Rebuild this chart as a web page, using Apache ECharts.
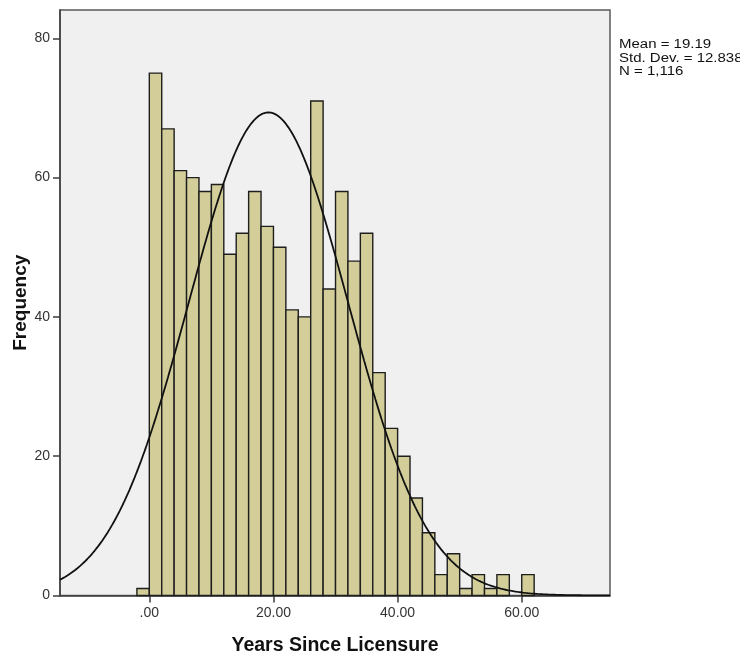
<!DOCTYPE html>
<html>
<head>
<meta charset="utf-8">
<script src="https://cdn.jsdelivr.net/npm/echarts@6/dist/echarts.min.js"></script>
<style>
  html, body { margin: 0; padding: 0; background: #ffffff; }
  #chart { width: 740px; height: 658px; }
</style>
</head>
<body>
<div id="chart"></div>
<script>
// Histogram bins: lower edge of each 2-year bin and its frequency
const binLower = [-2, 0, 2, 4, 6, 8, 10, 12, 14, 16, 18, 20, 22, 24, 26, 28, 30,
                  32, 34, 36, 38, 40, 42, 44, 46, 48, 50, 52, 54, 56, 58, 60];
const binCounts = [1, 75, 67, 61, 60, 58, 59, 49, 52, 58, 53, 50, 41, 40, 71, 44, 58,
                   48, 52, 32, 24, 20, 14, 9, 3, 6, 1, 3, 1, 3, 0, 3];
const binWidth = 2;

// Summary statistics shown beside the plot (also define the normal curve)
const statMean = 19.19;
const statSD = 12.838;
const statN = 1116;
const statLines = ['Mean = 19.19', 'Std. Dev. = 12.838', 'N = 1,116'];

// Axis ticks and labels
const xTicks = [0, 20, 40, 60];
const xTickLabels = ['.00', '20.00', '40.00', '60.00'];
const yTicks = [0, 20, 40, 60, 80];
const yTickLabels = ['0', '20', '40', '60', '80'];

const xMin = -14.39, xMax = 74.22;
const yMin = 0, yMax = 84.06;

// Bars as [start, end, count]; empty bins are not drawn
const barData = binLower
  .map((lo, i) => [lo, lo + binWidth, binCounts[i]])
  .filter(d => d[2] > 0);

// Normal density scaled to the histogram (N * bin width)
const curveData = [];
const scale = statN * binWidth / (statSD * Math.sqrt(2 * Math.PI));
for (let x = xMin; x <= xMax + 1e-9; x += 0.2) {
  const z = (x - statMean) / statSD;
  curveData.push([x, scale * Math.exp(-0.5 * z * z)]);
}

const chart = echarts.init(document.getElementById('chart'), null, { renderer: 'canvas' });

chart.setOption({
  animation: false,
  backgroundColor: '#ffffff',
  grid: {
    left: 60, right: 130, top: 10, bottom: 62.5,
    show: true,
    backgroundColor: '#f0f0f0',
    borderColor: '#5a5a5a',
    borderWidth: 1.5,
    containLabel: false,
    outerBoundsMode: 'none'
  },
  xAxis: {
    type: 'value',
    min: xMin, max: xMax,
    name: 'Years Since Licensure',
    nameLocation: 'middle',
    nameGap: 40,
    nameMoveOverlap: false,
    nameTextStyle: { fontFamily: 'Liberation Sans, Arial, sans-serif', fontWeight: 'bold', fontSize: 19.5, color: '#111' },
    axisLine: { show: true, onZero: false, lineStyle: { color: '#3c3c3c', width: 1.5 } },
    axisTick: { show: true, length: 7, lineStyle: { color: '#3c3c3c', width: 1.5 }, customValues: xTicks },
    axisLabel: {
      customValues: xTicks,
      margin: 11,
      fontFamily: 'Liberation Sans, Arial, sans-serif', fontSize: 14, color: '#333',
      formatter: v => xTickLabels[xTicks.indexOf(v)]
    },
    splitLine: { show: false }
  },
  yAxis: {
    type: 'value',
    min: yMin, max: yMax,
    name: 'Frequency',
    nameLocation: 'middle',
    nameGap: 30,
    nameMoveOverlap: false,
    nameTextStyle: { fontFamily: 'Liberation Sans, Arial, sans-serif', fontWeight: 'bold', fontSize: 19, color: '#111' },
    axisLine: { show: true, onZero: false, lineStyle: { color: '#3c3c3c', width: 1.5 } },
    axisTick: { show: true, length: 7, lineStyle: { color: '#3c3c3c', width: 1.5 }, customValues: yTicks },
    axisLabel: {
      customValues: yTicks,
      margin: 10,
      fontFamily: 'Liberation Sans, Arial, sans-serif', fontSize: 14, color: '#333',
      formatter: v => yTickLabels[yTicks.indexOf(v)]
    },
    splitLine: { show: false }
  },
  series: [
    {
      type: 'custom',
      name: 'Frequency',
      data: barData,
      encode: { x: [0, 1], y: 2 },
      renderItem: function (params, api) {
        const p0 = api.coord([api.value(0), api.value(2)]);
        const p1 = api.coord([api.value(1), 0]);
        return {
          type: 'rect',
          shape: { x: p0[0], y: p0[1], width: p1[0] - p0[0], height: p1[1] - p0[1] },
          style: { fill: '#d3ce99', stroke: '#1e1e1e', lineWidth: 1.4 }
        };
      },
      z: 2
    },
    {
      type: 'line',
      name: 'Normal',
      data: curveData,
      showSymbol: false,
      smooth: false,
      lineStyle: { color: '#111', width: 1.8 },
      z: 3
    }
  ],
  graphic: statLines.map((t, i) => ({
    type: 'text',
    x: 619,
    y: 44.6 + i * 13.5,
    scaleX: 1.2,
    style: {
      text: t,
      x: 0, y: 0,
      font: '12.5px "Liberation Sans", Arial, sans-serif',
      fill: '#111',
      verticalAlign: 'middle',
      align: 'left'
    }
  }))
});
</script>
</body>
</html>
